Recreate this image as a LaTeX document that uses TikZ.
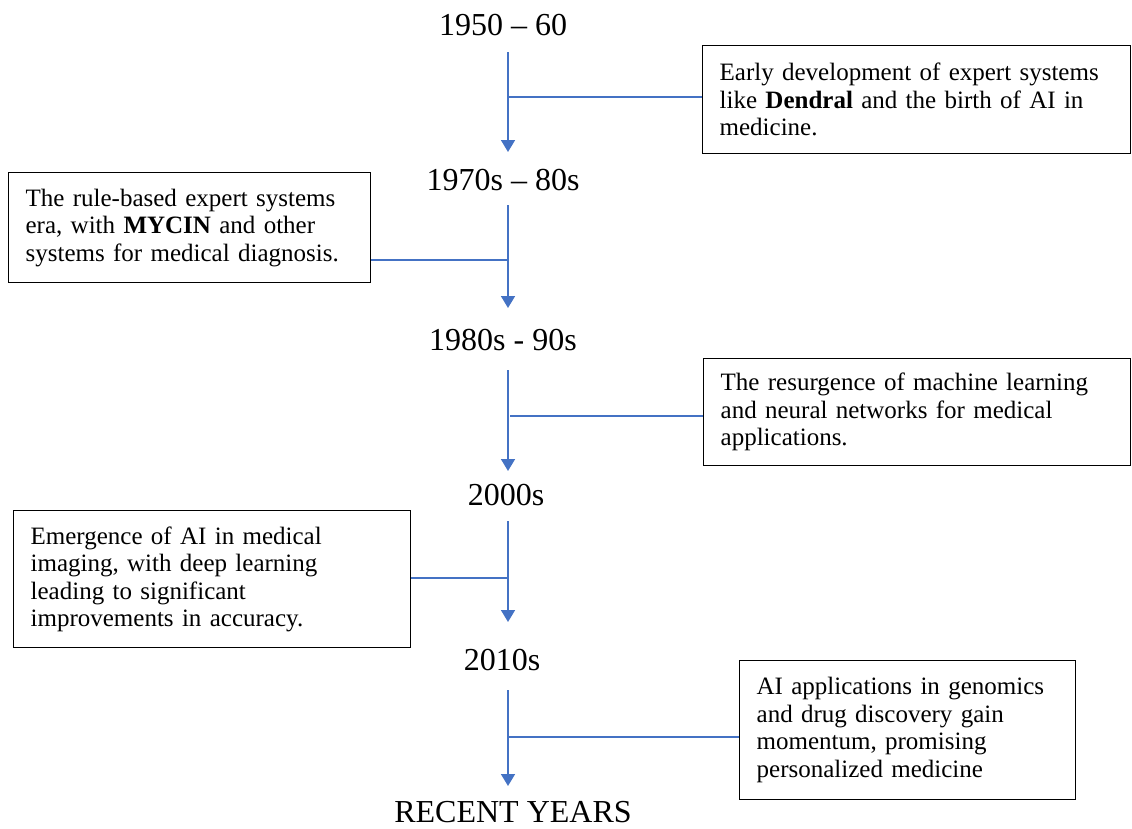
\documentclass[tikz,border=0pt]{standalone}
\usepackage{fontspec}
\setmainfont{Liberation Serif}
\usetikzlibrary{arrows.meta}
\definecolor{lineblue}{HTML}{4472C4}

\begin{document}
\begin{tikzpicture}[
		x=1pt, y=-1pt,
		year/.style={anchor=base, inner sep=0pt, font=\fontsize{32}{36}\selectfont},
		box/.style={draw, line width=1.3pt, anchor=north west, align=left, inner xsep=17pt, inner ysep=0pt, font=\fontsize{25}{27.5}\selectfont},
		flow/.style={draw=lineblue, line width=1.6pt, -{Triangle[width=14pt,length=12pt]}},
		link/.style={draw=lineblue, line width=1.3pt}
	]
  \useasboundingbox (0,0) rectangle (1132,828);
  \node (y1950) [year] at (503,35) {1950 -- 60};
  \node (y1970) [year] at (503,190) {1970s -- 80s};
  \node (y1980) [year] at (503,350) {1980s - 90s};
  \node (y2000) [year] at (506,505) {2000s};
  \node (y2010) [year] at (502,670) {2010s};
  \node (recent) [year] at (513,822) {RECENT YEARS};
  \node (box1) [box, text width=394, minimum height=108] at (702,45)
    {Early development of expert systems\\like \textbf{Dendral} and the birth of AI in\\medicine.};
  \node (box2) [box, text width=328, minimum height=110] at (8,172)
    {The rule-based expert systems\\era, with \textbf{MYCIN} and other\\systems for medical diagnosis.};
  \node (box3) [box, text width=393, minimum height=107] at (703,358)
    {The resurgence of machine learning\\and neural networks for medical\\applications.};
  \node (box4) [box, text width=363, minimum height=137] at (13,510)
    {Emergence of AI in medical\\imaging, with deep learning\\leading to significant\\improvements in accuracy.};
  \node (box5) [box, text width=302, minimum height=139] at (739,660)
    {AI applications in genomics\\and drug discovery gain\\momentum, promising\\personalized medicine};
  \coordinate (s1) at (508,52);  \coordinate (e1) at (508,152);
  \coordinate (s2) at (508,205); \coordinate (e2) at (508,308);
  \coordinate (s3) at (508,370); \coordinate (e3) at (508,471);
  \coordinate (s4) at (508,521); \coordinate (e4) at (508,622);
  \coordinate (s5) at (508,690); \coordinate (e5) at (508,786);
  \coordinate (b1) at (508,97);
  \coordinate (b2) at (508,260);
  \coordinate (b3) at (510,416);
  \coordinate (b4) at (508,578);
  \coordinate (b5) at (508,737);
  \draw [flow] (s1) -- (e1);
  \draw [flow] (s2) -- (e2);
  \draw [flow] (s3) -- (e3);
  \draw [flow] (s4) -- (e4);
  \draw [flow] (s5) -- (e5);
  \draw [link] (b1) -- (b1 -| box1.west);
  \draw [link] (b2) -- (b2 -| box2.east);
  \draw [link] (b3) -- (b3 -| box3.west);
  \draw [link] (b4) -- (b4 -| box4.east);
  \draw [link] (b5) -- (b5 -| box5.west);
\end{tikzpicture}
\end{document}
